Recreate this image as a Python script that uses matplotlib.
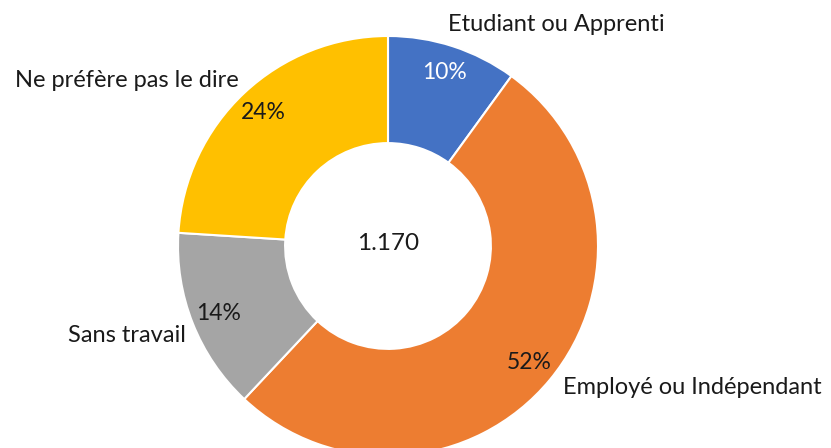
import matplotlib
matplotlib.use("Agg")
import matplotlib.pyplot as plt
import numpy as np

categories = ["Etudiant ou Apprenti", "Employé ou Indépendant", "Sans travail", "Ne préfère pas le dire"]
values = [10, 52, 14, 24]
pct_labels = ["10%", "52%", "14%", "24%"]
colors = ["#4472C4", "#ED7D31", "#A5A5A5", "#FFC000"]
pct_colors = ["white", "#1a1a1a", "#1a1a1a", "#1a1a1a"]
total_label = "1.170"

plt.rcParams['font.family'] = ['Lato', 'DejaVu Sans']

W, H = 831, 448
fig = plt.figure(figsize=(W / 100, H / 100), dpi=100)
R = 210
cx, cy = 388, 246
ax = fig.add_axes([(cx - R) / W, (H - cy - R) / H, 2 * R / W, 2 * R / H])

wedges, _ = ax.pie(values, colors=colors, startangle=90, counterclock=False,
                   wedgeprops=dict(width=0.51, edgecolor="white", linewidth=1.5))
ax.set_xlim(-1, 1)
ax.set_ylim(-1, 1)
ax.set_aspect("equal")
ax.axis("off")

for w, lab, c in zip(wedges, pct_labels, pct_colors):
    ang = np.deg2rad((w.theta1 + w.theta2) / 2)
    r = 0.87
    ax.text(r * np.cos(ang), r * np.sin(ang), lab, ha="center", va="center",
            fontsize=16.5, color=c)

ax.text(0, 0.01, total_label, ha="center", va="center", fontsize=17.5, color="#1a1a1a")

cat_pos = [(0.80, 1.057), (1.448, -0.676), (-1.243, -0.424), (-1.243, 0.79)]
for (x, y), lab in zip(cat_pos, categories):
    ax.text(x, y, lab, ha="center", va="center", fontsize=17, color="#1a1a1a", clip_on=False)

fig.savefig("out.png", dpi=100)
